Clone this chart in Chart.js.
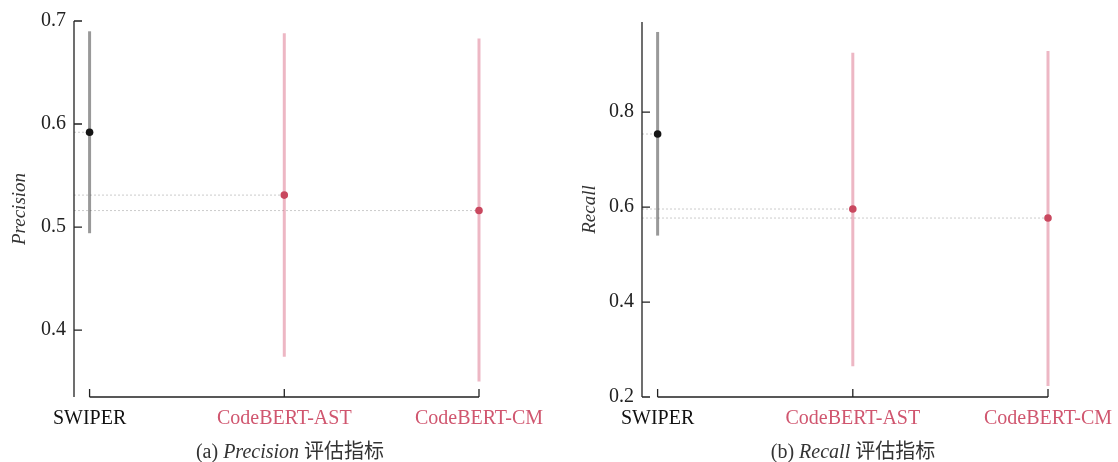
<!DOCTYPE html>
<html>
<head>
<meta charset="utf-8">
<script src="https://cdn.jsdelivr.net/npm/chart.js@4"></script>
<style>
  body { margin: 0; background: #fff; }
  #wrap { position: relative; width: 1118px; height: 462px; }
  .panel { position: absolute; top: 0; width: 559px; height: 462px; }
  .caption {
    position: absolute; top: 435px; font-size: 20px; color: #333;
    font-family: 'Liberation Serif', 'Noto Sans CJK SC', serif;
    transform: translateX(-50%); white-space: nowrap;
  }
</style>
</head>
<body>
<div id="wrap">
  <div class="panel" style="left:0"><canvas id="precisionChart"></canvas></div>
  <div class="panel" style="left:559px"><canvas id="recallChart"></canvas></div>
  <div class="caption" style="left:290px">(a) <i>Precision</i> 评估指标</div>
  <div class="caption" style="left:853px">(b) <i>Recall</i> 评估指标</div>
</div>
<script>
const models = ['SWIPER', 'CodeBERT-AST', 'CodeBERT-CM'];

const precisionMean = [0.592, 0.531, 0.516];
const precisionLow = [0.494, 0.374, 0.350];
const precisionHigh = [0.690, 0.688, 0.683];
const precisionTicks = [0.4, 0.5, 0.6, 0.7];

const recallMean = [0.754, 0.596, 0.577];
const recallLow = [0.540, 0.265, 0.223];
const recallHigh = [0.969, 0.925, 0.929];
const recallTicks = [0.2, 0.4, 0.6, 0.8];

const pointColors = ['#151515', '#c9485f', '#c9485f'];
const barColors = ['rgba(70,70,70,0.55)', 'rgba(214,96,124,0.45)', 'rgba(214,96,124,0.45)'];
const labelColors = ['#111', '#d0566f', '#d0566f'];

const X_MIN = -0.08;

// inward ticks + trimmed x axis, drawn from the scales
const axesPlugin = {
  id: 'axes',
  afterDraw(chart) {
    const ctx = chart.ctx;
    const xs = chart.scales.x, ys = chart.scales.y, area = chart.chartArea;
    ctx.save();
    ctx.strokeStyle = '#222';
    ctx.lineWidth = 1.3;
    ctx.beginPath();
    ctx.moveTo(area.left, area.top);
    ctx.lineTo(area.left, area.bottom);
    chart.options.yTickValues.forEach(v => {
      const py = ys.getPixelForValue(v);
      ctx.moveTo(area.left, py);
      ctx.lineTo(area.left + 8, py);
    });
    const x0 = xs.getPixelForValue(0), x1 = xs.getPixelForValue(models.length - 1);
    ctx.moveTo(x0, area.bottom);
    ctx.lineTo(x1, area.bottom);
    models.forEach((m, i) => {
      const px = xs.getPixelForValue(i);
      ctx.moveTo(px, area.bottom);
      ctx.lineTo(px, area.bottom - 8);
    });
    ctx.stroke();
    ctx.restore();
  }
};

function makeChart(id, cfg) {
  const datasets = [];
  models.forEach((m, i) => {
    datasets.push({
      data: [{ x: X_MIN, y: cfg.mean[i] }, { x: i, y: cfg.mean[i] }],
      showLine: true,
      borderColor: 'rgba(160,160,160,0.55)',
      borderWidth: 1,
      borderDash: [2, 2],
      pointRadius: 0,
      order: 3
    });
    datasets.push({
      data: [{ x: i, y: cfg.low[i] }, { x: i, y: cfg.high[i] }],
      showLine: true,
      borderColor: barColors[i],
      borderWidth: 3,
      pointRadius: 0,
      clip: false,
      order: 2
    });
  });
  datasets.push({
    data: cfg.mean.map((v, i) => ({ x: i, y: v })),
    pointRadius: 3.8,
    pointBackgroundColor: pointColors,
    pointBorderColor: pointColors,
    pointBorderWidth: 0,
    clip: false,
    order: 1
  });

  new Chart(document.getElementById(id), {
    type: 'scatter',
    data: { datasets },
    plugins: [axesPlugin],
    options: {
      responsive: true,
      maintainAspectRatio: false,
      animation: false,
      yTickValues: cfg.ticks,
      layout: { padding: { left: 0, top: cfg.top, right: cfg.right, bottom: 25 } },
      plugins: { legend: { display: false }, tooltip: { enabled: false } },
      scales: {
        x: {
          type: 'linear',
          min: X_MIN,
          max: models.length - 1,
          afterFit: s => { s.height = 40; },
          afterBuildTicks: s => { s.ticks = models.map((m, i) => ({ value: i })); },
          grid: { display: false },
          border: { display: false },
          ticks: {
            padding: 2,
            autoSkip: false,
            maxRotation: 0,
            color: c => labelColors[c.index],
            font: { family: 'Liberation Serif', size: 20 },
            callback: v => models[v]
          }
        },
        y: {
          min: cfg.min,
          max: cfg.max,
          afterFit: s => { s.width = cfg.left; },
          afterBuildTicks: s => { s.ticks = cfg.ticks.map(v => ({ value: v })); },
          grid: { display: false },
          border: { display: false },
          ticks: {
            padding: 0,
            color: '#222',
            font: { family: 'Liberation Serif', size: 20 },
            callback: v => v.toFixed(1)
          },
          title: {
            display: true,
            text: cfg.title,
            color: '#333',
            padding: { top: cfg.titlePad, bottom: 0 },
            font: { family: 'Liberation Serif', size: 19, style: 'italic' }
          }
        }
      }
    }
  });
}

makeChart('precisionChart', {
  mean: precisionMean, low: precisionLow, high: precisionHigh, ticks: precisionTicks,
  min: 0.335, max: 0.7, title: 'Precision', left: 74, right: 80, top: 21, titlePad: 9
});

makeChart('recallChart', {
  mean: recallMean, low: recallLow, high: recallHigh, ticks: recallTicks,
  min: 0.2, max: 0.99, title: 'Recall', left: 83, right: 70, top: 22, titlePad: 20
});
</script>
</body>
</html>
